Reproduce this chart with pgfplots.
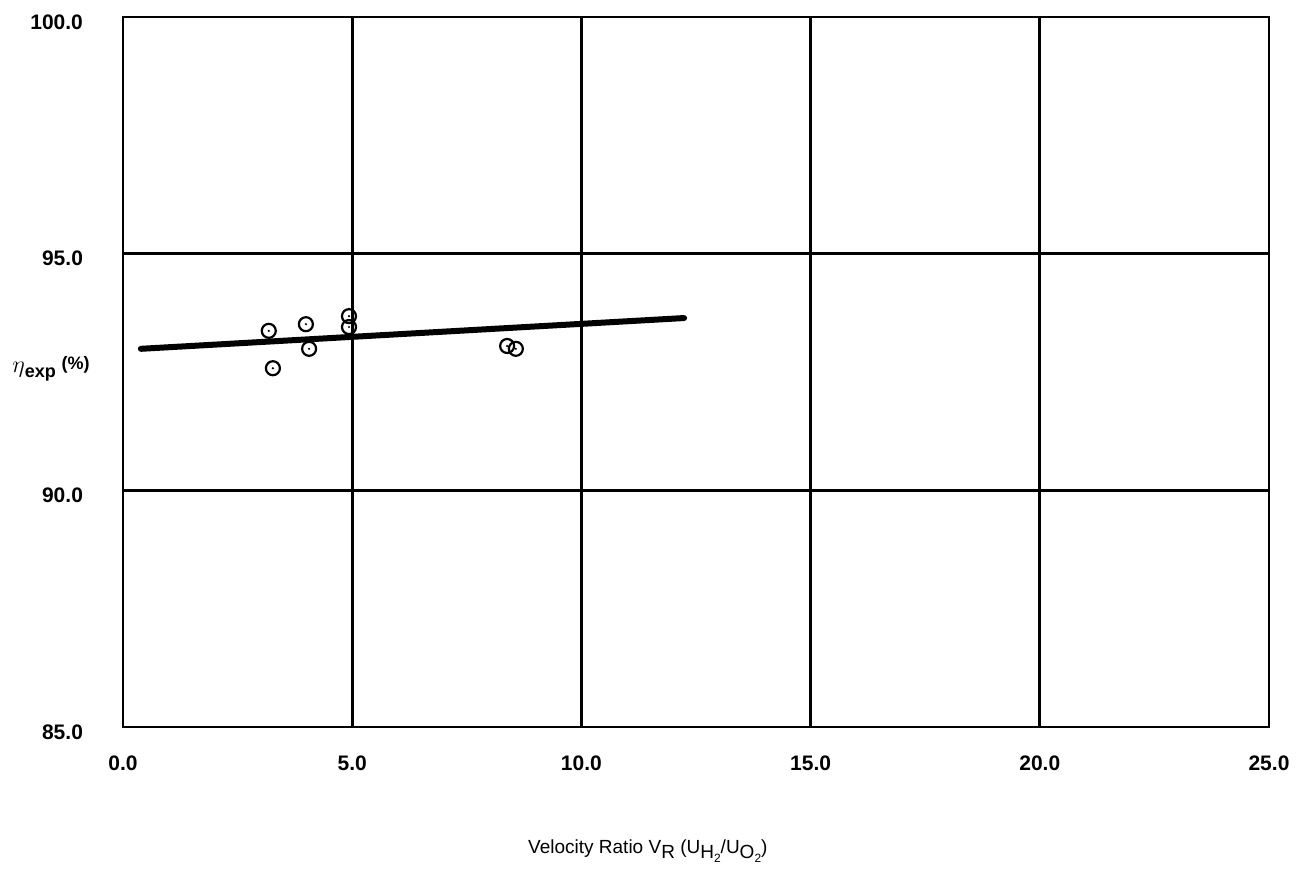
\documentclass[border=0pt]{standalone}
\usepackage{fontspec}
\setmainfont{Liberation Sans}
\usepackage{pgfplots}
\pgfplotsset{compat=1.18}

\pgfdeclareplotmark{odot}{%
  \pgfpathcircle{\pgfpointorigin}{\pgfplotmarksize}\pgfusepathqstroke
  \pgfpathcircle{\pgfpointorigin}{0.6pt}\pgfusepathqfill}

\newcommand{\lowsub}[1]{\raisebox{-0.45ex}{#1}}

\begin{document}
\begin{tikzpicture}
% frame to fix page size: 1302x880 px at 0.5pt per px
\path[use as bounding box] (-61.5pt,-76.5pt) rectangle (589.5pt,363.5pt);
\begin{axis}[
    at={(0,0)}, anchor=south west,
    width=573pt, height=355pt,
    scale only axis,
    xmin=0, xmax=25, ymin=85, ymax=100,
    xtick={0,5,...,25}, ytick={85,90,95,100},
    xticklabels={0.0,5.0,10.0,15.0,20.0,25.0},
    yticklabels={85.0,90.0,95.0,100.0},
    tick style={draw=none},
    grid=major,
    major grid style={black, line width=1.4pt},
    axis line style={black, line width=1.4pt},
    ticklabel style={font=\bfseries\fontsize{10.5}{12}\selectfont},
    xticklabel style={yshift=-11pt},
    yticklabel style={xshift=-16.5pt, yshift=-2.5pt},
    /pgf/number format/assume math mode=true,
    xlabel={\fontsize{9.5}{11}\selectfont Velocity Ratio V\lowsub{R} (U\lowsub{H\lowsub{\fontsize{6}{7}\selectfont 2}}/U\lowsub{O\lowsub{\fontsize{6}{7}\selectfont 2}})},
    xlabel style={at={(axis description cs:0.458,0)}, anchor=north, yshift=-53pt},
    ylabel={{\fontsize{13}{15}\selectfont$\eta$}\lowsub{\fontsize{9}{11}\selectfont\bfseries exp} \raisebox{0.3ex}{\fontsize{9}{11}\selectfont\bfseries(\%)}},
    ylabel style={rotate=-90, at={(axis description cs:0,0.505)}, anchor=center, xshift=-36pt},
]
\addplot[only marks, mark=odot, mark size=3.5pt, line width=1.1pt] coordinates {
    (3.18,93.37)
    (3.27,92.58)
    (3.99,93.51)
    (4.06,92.99)
    (4.93,93.68)
    (4.93,93.45)
    (8.38,93.05)
    (8.57,92.99)
};
\addplot[no marks, line width=3pt, line cap=round] coordinates {
    (0.39,92.99)
    (12.24,93.64)
};
\end{axis}
\end{tikzpicture}
\end{document}
